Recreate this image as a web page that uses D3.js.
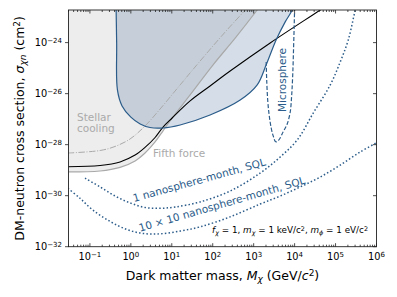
<!DOCTYPE html>
<html>
<head>
<meta charset="utf-8">
<script src="https://cdn.jsdelivr.net/npm/d3@7/dist/d3.min.js"></script>
<style>
  body { margin: 0; background: #fff; }
  text { font-family: "DejaVu Sans", sans-serif; }
</style>
</head>
<body>
<svg id="chart" width="397" height="297"></svg>
<script>
// ---- data (mass in GeV/c^2, cross section in cm^2) ----
var xTicks = [1e-1, 1e0, 1e1, 1e2, 1e3, 1e4, 1e5, 1e6];
var yTicks = [1e-32, 1e-30, 1e-28, 1e-26, 1e-24];

// fifth force bound (solid gray, shaded above)
var fifthMass  = [0.029, 0.177, 0.545, 1.27, 2.22, 3.91, 6.12, 9.08, 28, 102, 353, 1220, 3360];
var fifthSigma = [8.5e-30, 9.3e-30, 1.29e-29, 2.3e-29, 4.7e-29, 1.28e-28, 3.5e-28, 8.6e-28, 8.9e-27, 1.35e-25, 1.5e-24, 1.9e-23, 1.7e-22];

// stellar cooling (dash-dot gray)
var stellarMass  = [0.029, 0.177, 0.411, 0.956, 2.22, 5.18, 16, 49.2, 201, 620, 1090];
var stellarSigma = [4.7e-29, 5.9e-29, 8.5e-29, 1.67e-28, 5.4e-28, 2.5e-27, 2.2e-26, 1.9e-25, 2.6e-24, 1.9e-23, 5.6e-23];

// black solid bound
var blackMass  = [0.029, 0.177, 0.545, 1.27, 2.22, 3.91, 6.12, 10.2, 28, 86, 266, 2530, 42300, 130000];
var blackSigma = [1.37e-29, 1.53e-29, 2.1e-29, 3.9e-29, 7.8e-29, 1.91e-28, 4.9e-28, 1.11e-27, 5.2e-27, 2.0e-26, 7.7e-26, 9.7e-25, 1.9e-23, 6.3e-23];

// excluded region (blue shaded)
var regionMass  = [0.43, 0.45, 0.47, 0.61, 1.0, 1.69, 2.94, 6.12, 16, 86, 468, 1220, 2020, 3550, 5890, 8730, 11000];
var regionSigma = [1e-22, 1e-24, 1.4e-26, 3.3e-27, 1.2e-27, 6.5e-28, 4.7e-28, 4.5e-28, 5.9e-28, 1.45e-27, 5.6e-27, 2.2e-26, 1.35e-25, 1.3e-24, 6.5e-24, 1.9e-23, 6e-23];

// microsphere (dashed closed contour)
var microMass  = [2020, 2080, 2200, 2390, 2680, 3000, 3450, 4080, 5260, 6590, 7800, 8490, 8990, 9400, 9770, 10050];
var microSigma = [1.75e-25, 3.5e-26, 5.6e-27, 1.45e-27, 4.5e-28, 2.2e-28, 1.3e-28, 1.5e-28, 3.2e-28, 6.5e-28, 1.9e-27, 8.9e-27, 5.4e-26, 5.1e-25, 4.9e-24, 3e-23];

// 1 nanosphere-month, SQL (dotted)
var oneMass  = [0.0759, 0.177, 0.411, 0.956, 2.22, 5.18, 12.0, 49.2, 266, 1440, 4450, 11600, 28500, 74200, 130000, 205000, 303000, 400000];
var oneSigma = [4.9e-30, 2.2e-30, 9.7e-31, 5.2e-31, 3.45e-31, 3.2e-31, 3.6e-31, 5.7e-31, 1.52e-30, 7.7e-30, 3.3e-29, 1.53e-28, 1.73e-27, 2.2e-26, 1.75e-25, 1.3e-24, 1.9e-23, 1e-22];

// 10 x 10 nanosphere-month, SQL (dotted)
var tenMass  = [0.029, 0.0573, 0.119, 0.31, 0.807, 1.99, 5.18, 16, 49.2, 266, 1440, 4450, 13700, 42300, 130000, 402000, 1e6];
var tenSigma = [1.95e-30, 7.9e-31, 2.7e-31, 9.8e-32, 4.7e-32, 3.3e-32, 3.2e-32, 4.1e-32, 6.0e-32, 1.48e-31, 4.7e-31, 9.7e-31, 2.2e-30, 5.4e-30, 1.58e-29, 5.2e-29, 1.18e-28];

var blue = "#2b5c8a", grayLine = "#a9a9a9", grayText = "#aaaaaa";

var svg = d3.select("#chart"),
    plotL = 68.5, plotR = 376.5, plotT = 10, plotB = 246.7;

var x = d3.scaleLog().domain([0.03, 1e6]).range([plotL, plotR]);
var y = d3.scaleLog().domain([1e-32, 1.9e-23]).range([plotB, plotT]);

svg.append("defs").append("clipPath").attr("id", "plot-clip")
    .append("rect")
    .attr("x", plotL).attr("y", plotT)
    .attr("width", plotR - plotL).attr("height", plotB - plotT);

var plot = svg.append("g").attr("clip-path", "url(#plot-clip)");

function pts(ms, ss) { return ms.map(function (m, i) { return [m, ss[i]]; }); }

var line = d3.line()
    .x(function (d) { return x(d[0]); })
    .y(function (d) { return y(d[1]); })
    .curve(d3.curveCatmullRom.alpha(0.5));

// gray shaded area above the fifth force curve
var fifth = pts(fifthMass, fifthSigma);
plot.append("path")
    .attr("d", line(fifth) +
        "L" + x(fifthMass[fifthMass.length - 1]) + "," + (plotT - 30) +
        "L" + (plotL - 30) + "," + (plotT - 30) +
        "L" + (plotL - 30) + "," + y(fifthSigma[0]) + "Z")
    .attr("fill", "#ededed");

// blue excluded region
plot.append("path")
    .attr("d", line(pts(regionMass, regionSigma)) + "Z")
    .attr("fill", blue).attr("fill-opacity", 0.2)
    .attr("stroke", "none");

plot.append("path")
    .attr("d", line(fifth))
    .attr("fill", "none").attr("stroke", grayLine).attr("stroke-width", 1.2);

plot.append("path")
    .attr("d", line(pts(stellarMass, stellarSigma)))
    .attr("fill", "none").attr("stroke", grayLine).attr("stroke-width", 1)
    .attr("stroke-dasharray", "6.4,1.6,1,1.6");

plot.append("path")
    .attr("d", line(pts(blackMass, blackSigma)))
    .attr("fill", "none").attr("stroke", "#000").attr("stroke-width", 1.1);

plot.append("path")
    .attr("d", line(pts(regionMass, regionSigma)))
    .attr("fill", "none").attr("stroke", blue).attr("stroke-width", 1.2);

plot.append("path")
    .attr("d", line(pts(microMass, microSigma)))
    .attr("fill", "none").attr("stroke", blue).attr("stroke-width", 1.2)
    .attr("stroke-dasharray", "4,2");

plot.append("path")
    .attr("d", line(pts(oneMass, oneSigma)))
    .attr("fill", "none").attr("stroke", blue).attr("stroke-width", 1.5)
    .attr("stroke-dasharray", "1.5,2.2");

plot.append("path")
    .attr("d", line(pts(tenMass, tenSigma)))
    .attr("fill", "none").attr("stroke", blue).attr("stroke-width", 1.5)
    .attr("stroke-dasharray", "1.5,2.2");

// ---- labels inside the plot ----
var ann = svg.append("g").style("font-size", "10.5px");

ann.append("text").attr("x", 77).attr("y", 120.5).attr("fill", grayText).text("Stellar");
ann.append("text").attr("x", 77).attr("y", 132).attr("fill", grayText).text("cooling");
ann.append("text").attr("x", 153).attr("y", 156.7).attr("fill", grayText).text("Fifth force");

ann.append("text")
    .attr("transform", "translate(282,80) rotate(-90)")
    .attr("text-anchor", "middle").attr("dy", "0.35em")
    .attr("fill", blue).text("Microsphere");

ann.append("text")
    .attr("transform", "translate(134,202) rotate(-15.5)")
    .attr("fill", blue).text("1 nanosphere-month, SQL");

ann.append("text")
    .attr("transform", "translate(140,231.7) rotate(-16.2)")
    .attr("fill", blue).text("10 \u00d7 10 nanosphere-month, SQL");

var param = svg.append("text")
    .attr("x", 368).attr("y", 233)
    .attr("text-anchor", "end")
    .style("font-size", "8.8px").attr("fill", "#000");
function piece(t, opts) {
  var s = param.append("tspan").text(t);
  if (opts && opts.it) s.style("font-style", "italic");
  if (opts && opts.sub) s.attr("baseline-shift", "-25%").style("font-size", "6.4px");
  if (opts && opts.sup) s.attr("baseline-shift", "40%").style("font-size", "6.4px");
}
piece("f", {it: 1}); piece("\u03c7", {it: 1, sub: 1}); piece(" = 1, ");
piece("m", {it: 1}); piece("\u03c7", {it: 1, sub: 1}); piece(" = 1 keV/c");
piece("2", {sup: 1}); piece(", ");
piece("m", {it: 1}); piece("\u03d5", {it: 1, sub: 1}); piece(" = 1 eV/c");
piece("2", {sup: 1});

// ---- axes: frame, ticks, tick labels ----
var axes = svg.append("g");
axes.append("rect")
    .attr("x", plotL).attr("y", plotT)
    .attr("width", plotR - plotL).attr("height", plotB - plotT)
    .attr("fill", "none").attr("stroke", "#222").attr("stroke-width", 0.9);

var minorX = [];
for (var e = -2; e < 6; e++) {
  for (var k = 2; k < 10; k++) {
    var v = k * Math.pow(10, e);
    if (v >= 0.03 && v <= 1e6) minorX.push(v);
  }
}

function tickLines(vals, len) {
  vals.forEach(function (v) {
    var px = x(v);
    axes.append("line").attr("x1", px).attr("x2", px)
        .attr("y1", plotB).attr("y2", plotB - len)
        .attr("stroke", "#222").attr("stroke-width", 0.8);
    axes.append("line").attr("x1", px).attr("x2", px)
        .attr("y1", plotT).attr("y2", plotT + len)
        .attr("stroke", "#222").attr("stroke-width", 0.8);
  });
}
tickLines(minorX, 2);
tickLines(xTicks, 3.5);

yTicks.forEach(function (v) {
  var py = y(v);
  axes.append("line").attr("x1", plotL).attr("x2", plotL - 3.5)
      .attr("y1", py).attr("y2", py)
      .attr("stroke", "#222").attr("stroke-width", 0.8);
  axes.append("line").attr("x1", plotR).attr("x2", plotR - 3.5)
      .attr("y1", py).attr("y2", py)
      .attr("stroke", "#222").attr("stroke-width", 0.8);
});

function expo(v) { return Math.round(Math.log10(v)); }
function fmtExp(n) { return n < 0 ? "\u2212" + (-n) : String(n); }

xTicks.forEach(function (v) {
  var t = axes.append("text")
      .attr("x", x(v)).attr("y", 260)
      .attr("text-anchor", "middle")
      .style("font-size", "9.8px");
  t.append("tspan").text("10");
  t.append("tspan").attr("baseline-shift", "45%").style("font-size", "7px").text(fmtExp(expo(v)));
});

yTicks.forEach(function (v) {
  var t = axes.append("text")
      .attr("x", 62).attr("y", y(v)).attr("dy", "0.35em")
      .attr("text-anchor", "end")
      .style("font-size", "9.8px");
  t.append("tspan").text("10");
  t.append("tspan").attr("baseline-shift", "45%").style("font-size", "7px").text(fmtExp(expo(v)));
});

// axis titles
var xl = svg.append("text")
    .attr("x", (plotL + plotR) / 2).attr("y", 280)
    .attr("text-anchor", "middle").style("font-size", "12.5px");
xl.append("tspan").text("Dark matter mass, ");
xl.append("tspan").style("font-style", "italic").text("M");
xl.append("tspan").style("font-style", "italic").style("font-size", "9px").attr("baseline-shift", "-25%").text("\u03c7");
xl.append("tspan").text(" (GeV/");
xl.append("tspan").style("font-style", "italic").text("c");
xl.append("tspan").style("font-size", "9px").attr("baseline-shift", "40%").text("2");
xl.append("tspan").text(")");

var yl = svg.append("text")
    .attr("transform", "translate(24," + ((plotT + plotB) / 2) + ") rotate(-90)")
    .attr("text-anchor", "middle").style("font-size", "12.5px");
yl.append("tspan").text("DM-neutron cross section, ");
yl.append("tspan").style("font-style", "italic").text("\u03c3");
yl.append("tspan").style("font-style", "italic").style("font-size", "9px").attr("baseline-shift", "-25%").text("\u03c7n");
yl.append("tspan").text(" (cm");
yl.append("tspan").style("font-size", "9px").attr("baseline-shift", "40%").text("2");
yl.append("tspan").text(")");
</script>
</body>
</html>
